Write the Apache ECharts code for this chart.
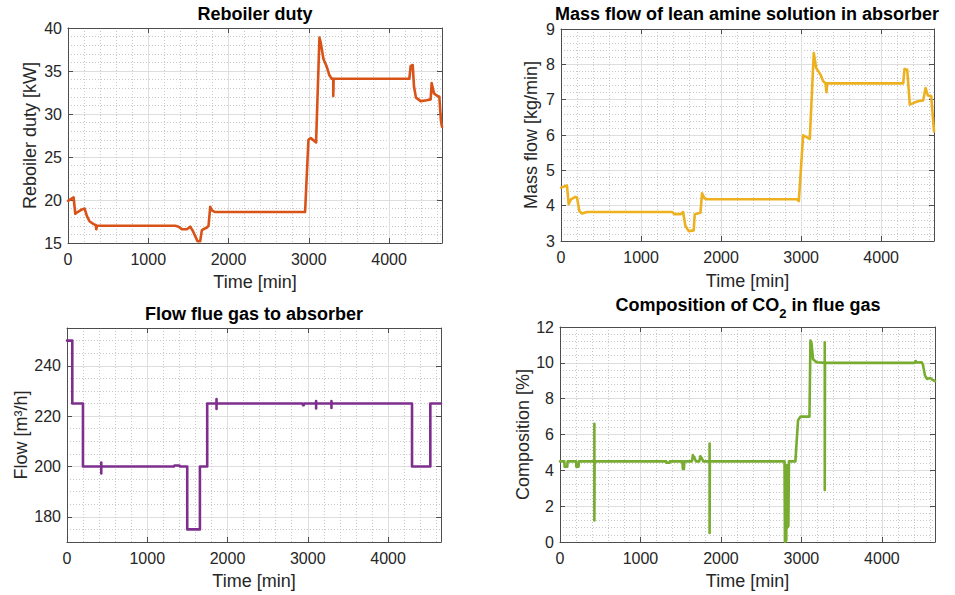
<!DOCTYPE html>
<html>
<head>
<meta charset="utf-8">
<script src="https://cdn.jsdelivr.net/npm/echarts@6/dist/echarts.min.js"></script>
<style>
  html, body { margin: 0; padding: 0; background: #fff; }
  #chart { width: 955px; height: 595px; }
</style>
</head>
<body>
<div id="chart"></div>
<script>
// shared time axis [min]
const timeMax = 4660;
const timeTicks = [0, 1000, 2000, 3000, 4000];

// Reboiler duty [kW]
const dutyT = [0, 70, 91, 120, 174, 207, 237, 270, 320, 345, 353, 353, 361, 1336, 1378, 1419, 1481, 1523, 1556, 1585,
  1614, 1647, 1668, 1730, 1751, 1772, 1793, 1834, 2954, 2996, 3025, 3091, 3133, 3149, 3183, 3224, 3257, 3286, 3305, 3305,
  3310, 4253, 4270, 4295, 4311, 4336, 4394, 4469, 4519, 4531, 4560, 4602, 4627, 4647, 4660];
const dutyV = [19.9, 20.3, 18.4, 18.6, 18.9, 19.0, 18.1, 17.5, 17.2, 17.1, 17.1, 16.6, 17.0, 17.0, 16.9, 16.6, 16.6, 16.9, 16.4, 15.8,
  15.2, 15.2, 16.5, 16.8, 17.0, 19.2, 18.8, 18.6, 18.6, 27.0, 27.2, 26.7, 38.9, 38.3, 36.4, 35.5, 34.5, 34.1, 34.1, 32.1,
  34.1, 34.1, 35.6, 35.7, 33.2, 31.9, 31.5, 31.6, 31.7, 33.6, 32.4, 32.1, 32.0, 29.2, 28.5];
const dutyTicks = [15, 20, 25, 30, 35, 40];

// Mass flow of lean amine [kg/min]
const massT = [0, 75, 96, 125, 179, 200, 229, 262, 325, 1388, 1417, 1492, 1525, 1554, 1596, 1658, 1671, 1742, 1762, 1792,
  1825, 2950, 2971, 3025, 3108, 3158, 3188, 3242, 3275, 3304, 3317, 3325, 4275, 4292, 4325, 4358, 4408, 4471, 4525, 4554,
  4583, 4625, 4660];
const massV = [4.51, 4.57, 4.04, 4.18, 4.25, 4.23, 3.85, 3.78, 3.82, 3.82, 3.76, 3.76, 3.82, 3.43, 3.28, 3.30, 3.76, 3.80, 4.35, 4.21,
  4.18, 4.18, 4.13, 5.99, 5.89, 8.32, 7.90, 7.71, 7.52, 7.47, 7.21, 7.46, 7.46, 7.87, 7.85, 6.86, 6.91, 6.96, 6.98, 7.33,
  7.12, 7.10, 6.10];
const massTicks = [3, 4, 5, 6, 7, 8, 9];

// Flue gas flow [m3/h]
const gasT = [0, 66, 66, 199, 199, 427, 427, 427, 427, 1332, 1340, 1400, 1408, 1498, 1498, 1656, 1656, 1747, 1747, 1863,
  1863, 1863, 1863, 2935, 2940, 2950, 2955, 3104, 3104, 3104, 3104, 3295, 3295, 3295, 3295, 4299, 4299, 4527, 4527, 4660];
const gasV = [250, 250, 225, 225, 200, 200, 201.6, 197.2, 200, 200, 200.4, 200.4, 200, 200, 175, 175, 200, 200, 225, 225,
  226.8, 222.8, 225, 225, 224.3, 224.3, 225, 225, 226, 223, 225, 225, 226, 223.2, 225, 225, 200, 200, 225, 225];
const gasTicks = [180, 200, 220, 240];

// CO2 in flue gas [%]
const co2T = [0, 54, 58, 90, 95, 199, 203, 230, 235, 427, 427, 427, 430, 1320, 1325, 1360, 1365, 1520, 1527, 1540,
  1545, 1640, 1651, 1670, 1690, 1730, 1745, 1765, 1780, 1859, 1859, 1859, 1862, 2790, 2795, 2812, 2816, 2822, 2838, 2845,
  2925, 2958, 2990, 3100, 3112, 3125, 3145, 3187, 3290, 3290, 3290, 3293, 4410, 4420, 4430, 4495, 4510, 4535, 4560, 4600,
  4620, 4660];
const co2V = [4.5, 4.5, 4.2, 4.2, 4.5, 4.5, 4.2, 4.2, 4.5, 4.5, 6.6, 1.2, 4.5, 4.5, 4.42, 4.42, 4.5, 4.5, 4.08, 4.08,
  4.5, 4.5, 4.85, 4.7, 4.5, 4.5, 4.78, 4.65, 4.5, 4.5, 5.5, 0.5, 4.5, 4.5, 0, 0.1, 4.3, 0.8, 0.9, 4.5,
  4.5, 6.8, 7.0, 7.0, 11.25, 11.1, 10.2, 10.03, 10.0, 11.15, 2.9, 10.0, 10.0, 10.1, 10.02, 10.03, 9.9, 9.3, 9.1, 9.15,
  9.08, 8.98];
const co2Ticks = [0, 2, 4, 6, 8, 10, 12];

const font = 'Liberation Sans';
const ink = '#262626';
const boxColor = '#4d4d4d';
const majorGrid = '#dedede';
const minorGrid = '#c8c8c8';

// panels: grid box, y range, minor step, colour
const panels = [
  { box: { left: 68, top: 28, width: 374, height: 215 }, t: dutyT, v: dutyV, ticks: dutyTicks, min: 15, max: 40, minor: 1,
    name: 'Reboiler duty [kW]', yGap: 29, xGap: 30, color: '#D95319' },
  { box: { left: 561, top: 29, width: 373, height: 212 }, t: massT, v: massV, ticks: massTicks, min: 3, max: 9, minor: 0.2,
    name: 'Mass flow [kg/min]', yGap: 21, xGap: 31, color: '#EDB120' },
  { box: { left: 67, top: 328, width: 374, height: 214 }, t: gasT, v: gasV, ticks: gasTicks, min: 170, max: 255, minor: 5,
    name: 'Flow [m³/h]', yGap: 36, xGap: 30, color: '#7E2F8E' },
  { box: { left: 560, top: 327, width: 375, height: 215 }, t: co2T, v: co2V, ticks: co2Ticks, min: 0, max: 12, minor: 0.4,
    name: 'Composition [%]', yGap: 28, xGap: 30, color: '#77AC30' },
];

const hidden = { axisLine: { show: false }, axisTick: { show: false }, axisLabel: { show: false } };
const tickStyle = { show: true, inside: true, length: 5, lineStyle: { color: boxColor, width: 1 } };
const lineStyleBox = { show: true, onZero: false, lineStyle: { color: boxColor, width: 1 } };
const labelStyle = { fontFamily: font, fontSize: 16, color: ink, formatter: v => String(v) };

let xAxis = [], yAxis = [], series = [];
panels.forEach((p, k) => {
  // minor grid (dotted)
  xAxis.push(Object.assign({ gridIndex: k, type: 'value', position: 'bottom', min: 0, max: timeMax, interval: 200,
    splitLine: { show: true, lineStyle: { color: minorGrid, type: [1, 2], width: 1 } } }, hidden));
  // main axis with labels
  xAxis.push({
    gridIndex: k, type: 'value', position: 'bottom', min: 0, max: timeMax, interval: 1000,
    name: 'Time [min]', nameLocation: 'middle', nameGap: p.xGap,
    nameTextStyle: { fontFamily: font, fontSize: 18, color: ink },
    axisLine: lineStyleBox,
    axisTick: Object.assign({ customValues: timeTicks }, tickStyle),
    axisLabel: Object.assign({ customValues: timeTicks, margin: 8 }, labelStyle),
    splitLine: { show: true, lineStyle: { color: majorGrid, width: 1 } }
  });
  // box top
  xAxis.push({
    gridIndex: k, type: 'value', position: 'top', min: 0, max: timeMax, interval: 1000,
    axisLine: lineStyleBox,
    axisTick: Object.assign({ customValues: timeTicks }, tickStyle),
    axisLabel: { show: false }, splitLine: { show: false }
  });

  yAxis.push(Object.assign({ gridIndex: k, type: 'value', position: 'left', min: p.min, max: p.max, interval: p.minor,
    splitLine: { show: true, lineStyle: { color: minorGrid, type: [1, 2], width: 1 } } }, hidden));
  yAxis.push({
    gridIndex: k, type: 'value', position: 'left', min: p.min, max: p.max,
    name: p.name, nameLocation: 'middle', nameGap: p.yGap, nameRotate: 90,
    nameTextStyle: { fontFamily: font, fontSize: 18, color: ink },
    axisLine: lineStyleBox,
    axisTick: Object.assign({ customValues: p.ticks }, tickStyle),
    axisLabel: Object.assign({ customValues: p.ticks, margin: 6 }, labelStyle),
    splitLine: { show: true, lineStyle: { color: majorGrid, width: 1 } }
  });
  yAxis.push({
    gridIndex: k, type: 'value', position: 'right', min: p.min, max: p.max,
    axisLine: lineStyleBox,
    axisTick: Object.assign({ customValues: p.ticks }, tickStyle),
    axisLabel: { show: false }, splitLine: { show: false }
  });

  series.push({
    type: 'line', xAxisIndex: 3 * k + 1, yAxisIndex: 3 * k + 1,
    data: p.t.map((t, i) => [t, p.v[i]]),
    showSymbol: false, symbol: 'none', clip: true,
    lineStyle: { color: p.color, width: 2.6, cap: 'round', join: 'round' },
    itemStyle: { color: p.color }
  });
});

const titleFont = 'bold 18px "Liberation Sans"';
function title(x, y, text, rich) {
  return {
    type: 'text', x: x, y: y, silent: true,
    style: { text: text, font: titleFont, fill: '#000', align: 'center', verticalAlign: 'middle',
      textAlign: 'center', textVerticalAlign: 'middle', rich: rich }
  };
}

const chart = echarts.init(document.getElementById('chart'), null, { renderer: 'svg' });
chart.setOption({
  animation: false,
  backgroundColor: '#fff',
  grid: panels.map(p => Object.assign({ outerBoundsMode: 'none', containLabel: false }, p.box)),
  xAxis: xAxis,
  yAxis: yAxis,
  series: series,
  graphic: [
    title(255, 14, 'Reboiler duty'),
    title(747, 14, 'Mass flow of lean amine solution in absorber'),
    title(254, 314, 'Flow flue gas to absorber'),
    title(748, 305, '{a|Composition of CO}{b|2}{a| in flue gas}', {
      a: { fontFamily: font, fontSize: 18, fontWeight: 'bold', fill: '#000', color: '#000' },
      b: { fontFamily: font, fontSize: 13, fontWeight: 'bold', fill: '#000', color: '#000', padding: [16, 0, 0, 0] }
    })
  ]
});
</script>
</body>
</html>
